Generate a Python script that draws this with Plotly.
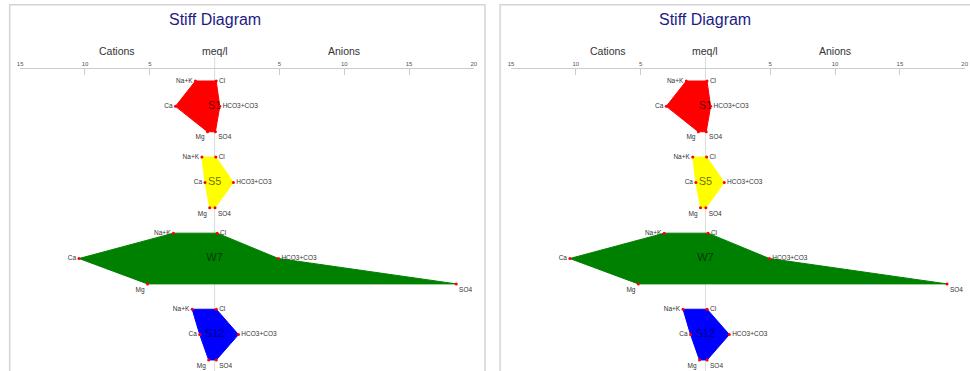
import plotly.graph_objects as go

# Major ion concentrations (meq/l) for each sample
samples = ["S1", "S5", "W7", "S12"]
na_k = [1.48, 0.98, 3.18, 1.73]
ca = [3.02, 0.74, 10.46, 1.15]
mg = [0.55, 0.38, 5.18, 0.46]
cl = [0.12, 0.09, 0.20, 0.13]
hco3_co3 = [0.40, 1.45, 4.93, 1.84]
so4 = [0.06, 0.03, 18.64, 0.13]
fill_colors = ["#ff0000", "#ffff00", "#008000", "#0000ff"]

ion_labels = ["Na+K", "Ca", "Mg", "SO4", "HCO3+CO3", "Cl"]
tick_vals = [-15, -10, -5, 5, 10, 15, 20]
tick_text = ["15", "10", "5", "5", "10", "15", "20"]

W, H = 970, 371
FONT = "Liberation Sans, Arial, sans-serif"


def fx(px):
    return px / W


def fy(py):
    return 1 - py / H


fig = go.Figure()

panels = [
    {"xa": "x", "ya": "y", "axis_l": 17.3, "axis_r": 474.3, "frame": (6.7, 485.5)},
    {"xa": "x2", "ya": "y2", "axis_l": 511.7, "axis_r": 968.7, "frame": (500.7, 1000)},
]

shapes = []
annotations = []

for p in panels:
    for i, name in enumerate(samples):
        r = 3 * i
        xs = [-na_k[i], -ca[i], -mg[i], so4[i], hco3_co3[i], cl[i]]
        ys = [r, r + 1, r + 2, r + 2, r + 1, r]
        # filled Stiff polygon
        fig.add_trace(go.Scatter(
            x=xs + [xs[0]], y=ys + [ys[0]], xaxis=p["xa"], yaxis=p["ya"],
            mode="lines", fill="toself", fillcolor=fill_colors[i],
            line=dict(color=fill_colors[i], width=1),
            hoverinfo="skip", showlegend=False,
        ))
        # sample name in the centre
        fig.add_trace(go.Scatter(
            x=[0], y=[r + 1], xaxis=p["xa"], yaxis=p["ya"], mode="text",
            text=[name], textposition="middle center",
            textfont=dict(family=FONT, size=11, color="rgba(0,0,0,0.6)"),
            hoverinfo="skip", showlegend=False,
        ))
        # vertex markers with ion names
        fig.add_trace(go.Scatter(
            x=xs, y=ys, xaxis=p["xa"], yaxis=p["ya"], mode="markers+text",
            marker=dict(color="#ff0000", size=3),
            text=ion_labels,
            textposition=["middle left", "middle left", "bottom left",
                          "bottom right", "middle right", "middle right"],
            textfont=dict(family=FONT, size=6.5, color="#333333"),
            hoverinfo="skip", showlegend=False,
        ))

    x_ref = p["xa"]
    # vertical zero line
    shapes.append(dict(type="line", xref=x_ref, yref="paper", x0=0, x1=0,
                       y0=0, y1=fy(57), line=dict(color="#dcdcdc", width=1),
                       layer="below"))
    # panel frame
    shapes.append(dict(type="rect", xref="paper", yref="paper",
                       x0=fx(p["frame"][0]), x1=fx(p["frame"][1]),
                       y0=-0.05, y1=fy(4.7),
                       line=dict(color="#d4d4d4", width=1.5), layer="below"))
    annotations.append(dict(text="Stiff Diagram", xref=x_ref, yref="paper",
                            x=0, y=fy(19), xanchor="center", yanchor="middle",
                            showarrow=False,
                            font=dict(family=FONT, size=16, color="#1c1c84")))
    for txt, xv in [("Cations", -7.5), ("meq/l", 0), ("Anions", 10)]:
        annotations.append(dict(text=txt, xref=x_ref, yref="paper",
                                x=xv, y=fy(51), xanchor="center",
                                yanchor="middle", showarrow=False,
                                font=dict(family=FONT, size=10.5, color="#333333")))

row0_y, row_step = 81.0, 25.36
y_range = [(H - row0_y) / row_step, (69 - row0_y) / row_step]

xaxis_common = dict(
    range=[-15, 20], side="top", showline=True, linecolor="#cccccc", linewidth=1,
    ticks="inside", ticklen=6, tickcolor="#cccccc", tickvals=tick_vals,
    ticktext=tick_text, tickfont=dict(family=FONT, size=6, color="#555555"),
    showgrid=False, zeroline=False, fixedrange=True,
)
yaxis_common = dict(range=y_range, visible=False, showgrid=False,
                    zeroline=False, domain=[0, fy(69)], fixedrange=True)

fig.update_layout(
    width=W, height=H, margin=dict(l=0, r=0, t=0, b=0),
    paper_bgcolor="white", plot_bgcolor="rgba(0,0,0,0)",
    xaxis=dict(domain=[fx(panels[0]["axis_l"]), fx(panels[0]["axis_r"])],
               anchor="y", **xaxis_common),
    yaxis=dict(anchor="x", **yaxis_common),
    xaxis2=dict(domain=[fx(panels[1]["axis_l"]), fx(panels[1]["axis_r"])],
                anchor="y2", **xaxis_common),
    yaxis2=dict(anchor="x2", **yaxis_common),
    shapes=shapes, annotations=annotations, showlegend=False,
    font=dict(family=FONT),
)

fig.write_html("out.html", config={"displayModeBar": False})
